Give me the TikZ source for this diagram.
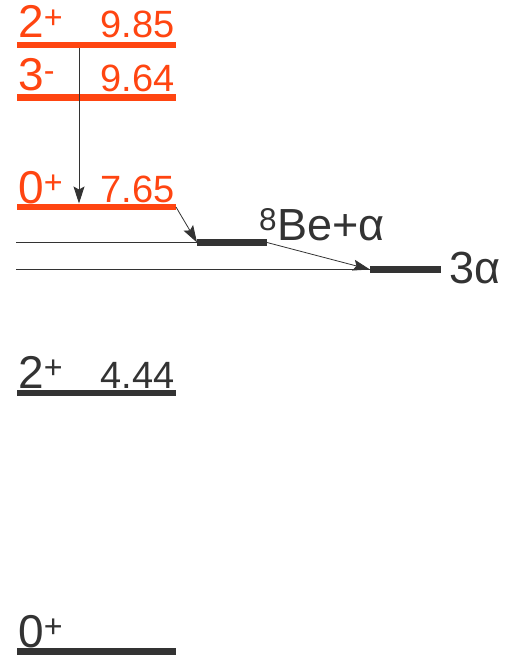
\documentclass[tikz,border=0pt]{standalone}
\usepackage{fontspec}
\setmainfont{Liberation Sans}
\usetikzlibrary{arrows.meta}
\definecolor{exc}{HTML}{FF4511}
\definecolor{gnd}{HTML}{333333}

\tikzset{
  level/.style={line width=6.5pt},
  thres/.style={gnd, line width=0.8pt},
  decay/.style={-{Stealth[length=17pt, width=11pt, inset=3pt]}, line width=0.8pt, gnd},
  spin/.style={anchor=base west, inner sep=0pt, font=\fontsize{46}{46}\selectfont},
  energy/.style={anchor=base east, inner sep=0pt, font=\fontsize{38}{38}\selectfont},
  chan/.style={anchor=base west, inner sep=0pt, gnd, font=\fontsize{45}{45}\selectfont},
}

\begin{document}
\begin{tikzpicture}[x=1pt, y=-1pt]
  \useasboundingbox (0,0) rectangle (521,655);

  % excited states (orange)
  \draw[level, exc] (17,45) coordinate (l985w) -- (176,45) coordinate (l985e);
  \draw[level, exc] (17,97.5) coordinate (l964w) -- (176,97.5) coordinate (l964e);
  \draw[level, exc] (17,207) coordinate (l765w) -- (176,207) coordinate (l765e);
  \node[spin, exc] (j985) at (18,38) {2\textsuperscript{+}};
  \node[energy, exc] (e985) at (175,38) {9.85};
  \node[spin, exc] (j964) at (18,91) {3\textsuperscript{-}};
  \node[energy, exc] (e964) at (175,92) {9.64};
  \node[spin, exc] (j765) at (18,203) {0\textsuperscript{+}};
  \node[energy, exc] (e765) at (175,202) {7.65};

  % bound states
  \draw[level, gnd] (17,393) coordinate (l444w) -- (176,393) coordinate (l444e);
  \draw[level, gnd] (17,651.5) coordinate (l0w) -- (176,651.5) coordinate (l0e);
  \node[spin, gnd] (j444) at (18,388) {2\textsuperscript{+}};
  \node[energy, gnd] (e444) at (175,388) {4.44};
  \node[spin, gnd] (j0) at (18,647) {0\textsuperscript{+}};

  % thresholds
  \coordinate (be8w) at (197,242.5);
  \coordinate (be8e) at (267,242.5);
  \coordinate (a3w) at (370,269.5);
  \coordinate (a3e) at (441,269.5);
  \draw[thres] (16,242.5) -- (be8w);
  \draw[thres] (16,269.5) -- (a3w);
  \draw[level, gnd] (be8w) -- (be8e);
  \draw[level, gnd] (a3w) -- (a3e);
  \node[chan] (be8) at (259,240) {\textsuperscript{8}Be+α};
  \node[chan] (a3) at (449,283) {3α};

  % decays
  \coordinate (g985) at (79,48.5);
  \coordinate (g765) at (79,203.5);
  \draw[decay] (g985) -- (g765);
  \draw[decay] (l765e) -- (be8w);
  \draw[decay] (be8e) -- (a3w);
\end{tikzpicture}
\end{document}
